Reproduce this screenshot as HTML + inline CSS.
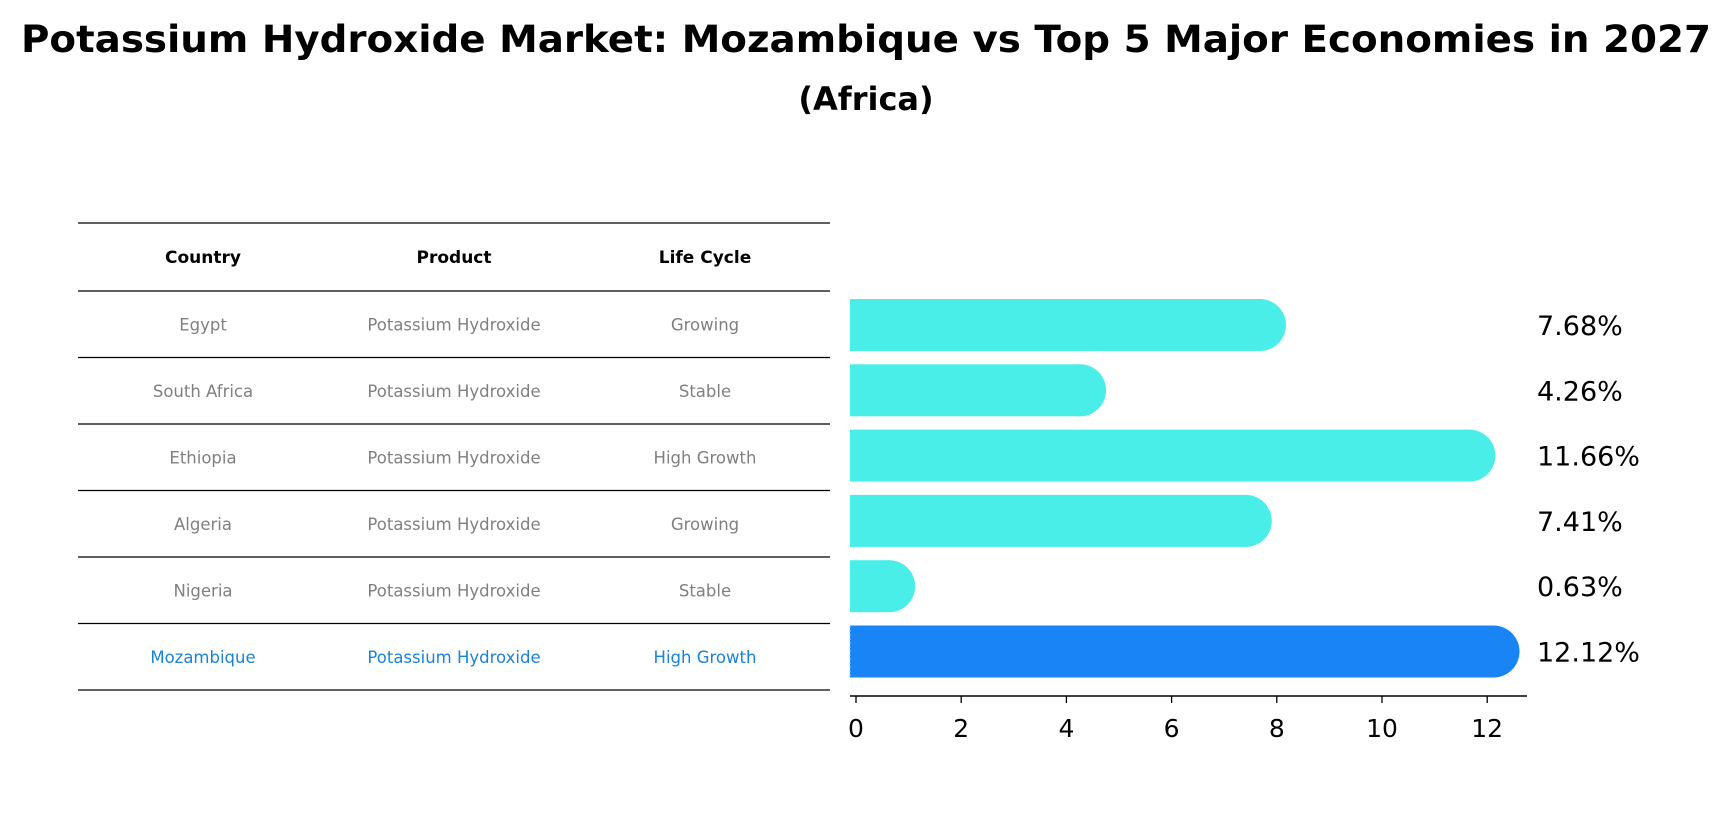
<!DOCTYPE html>
<html><head><meta charset="utf-8"><style>
body{margin:0;background:#fff;font-family:"Liberation Sans","DejaVu Sans",sans-serif;}
svg text{font-family:"DejaVu Sans","Liberation Sans",sans-serif;}
</style></head><body>
<svg id="c" width="1732" height="823" viewBox="0 0 1732 823">
<text x="866" y="52" text-anchor="middle" font-size="37" font-weight="bold" textLength="1690" lengthAdjust="spacingAndGlyphs">Potassium Hydroxide Market: Mozambique vs Top 5 Major Economies in 2027</text>
<text x="866" y="110" text-anchor="middle" font-size="32" font-weight="bold">(Africa)</text>
<g id="table"></g>
<g id="bars"></g>
<g id="axis"></g>
</svg>
<script>
const countries=["Egypt","South Africa","Ethiopia","Algeria","Nigeria","Mozambique"];
const products=["Potassium Hydroxide","Potassium Hydroxide","Potassium Hydroxide","Potassium Hydroxide","Potassium Hydroxide","Potassium Hydroxide"];
const lifeCycles=["Growing","Stable","High Growth","Growing","Stable","High Growth"];
const values=[7.68,4.26,11.66,7.41,0.63,12.12];
const ticks=[0,2,4,6,8,10,12];
const NS="http://www.w3.org/2000/svg";
const x0=856,scale=52.6,barTop=325,barStep=65.3,barH=52,r=26;
const tTop=223,tHead=68,tRow=66.5;
const xs=v=>x0+v*scale;
function mk(tag,attrs,parent){const e=document.createElementNS(NS,tag);for(const k in attrs)e.setAttribute(k,attrs[k]);parent.appendChild(e);return e;}
const tb=document.getElementById('table'),bg=document.getElementById('bars'),ax=document.getElementById('axis');
const cols=[203,454,705];
const hdr=["Country","Product","Life Cycle"];
hdr.forEach((h,i)=>{const t=mk('text',{x:cols[i],y:tTop+tHead/2+6,'text-anchor':'middle','font-size':17,'font-weight':'bold'},tb);t.textContent=h;

});
const lineYs=[tTop];for(let i=0;i<=countries.length;i++)lineYs.push(tTop+tHead+i*tRow);
lineYs.forEach(y=>{const l=mk('line',{x1:78,x2:830,y1:y,y2:y,stroke:'#000','stroke-width':1.2},tb);

});
countries.forEach((c,i)=>{
 const ty=tTop+tHead+tRow*(i+0.5);
 const col=i===countries.length-1?'#1a84d6':'#808080';
 [c,products[i],lifeCycles[i]].forEach((s,j)=>{const t=mk('text',{x:cols[j],y:ty+6,'text-anchor':'middle','font-size':16.5,fill:col},tb);t.textContent=s;
 
 });
 const cy=barTop+barStep*i;
 const hl=i===countries.length-1;
 const fill=hl?'#1984f5':'#4aeee9';
 const xe=xs(values[i]);
 const g=mk('g',{},bg);
 
 
 mk('rect',{x:x0-6,y:cy-barH/2,width:xe-x0+6,height:barH,fill:fill},g);
 mk('circle',{cx:xe,cy:cy,r:r,fill:fill},g);
 if(hl){mk('path',{d:`M${xe},${cy-barH/2} H${x0-6} V${cy+barH/2} H${xe}`,fill:'none',stroke:'#8fc4ff','stroke-width':1,'stroke-dasharray':'2,2'},g);}
 const t=mk('text',{x:1537,y:cy+10,'font-size':27},bg);t.textContent=values[i].toFixed(2)+'%';
 
 
});
mk('line',{x1:x0-6,x2:1527,y1:696,y2:696,stroke:'#000','stroke-width':1.6},ax);
ticks.forEach(v=>{mk('line',{x1:xs(v),x2:xs(v),y1:696,y2:703,stroke:'#000','stroke-width':1.3},ax);
 const t=mk('text',{x:xs(v),y:737,'text-anchor':'middle','font-size':25},ax);t.textContent=v;
 
 });
</script>
</body></html>
